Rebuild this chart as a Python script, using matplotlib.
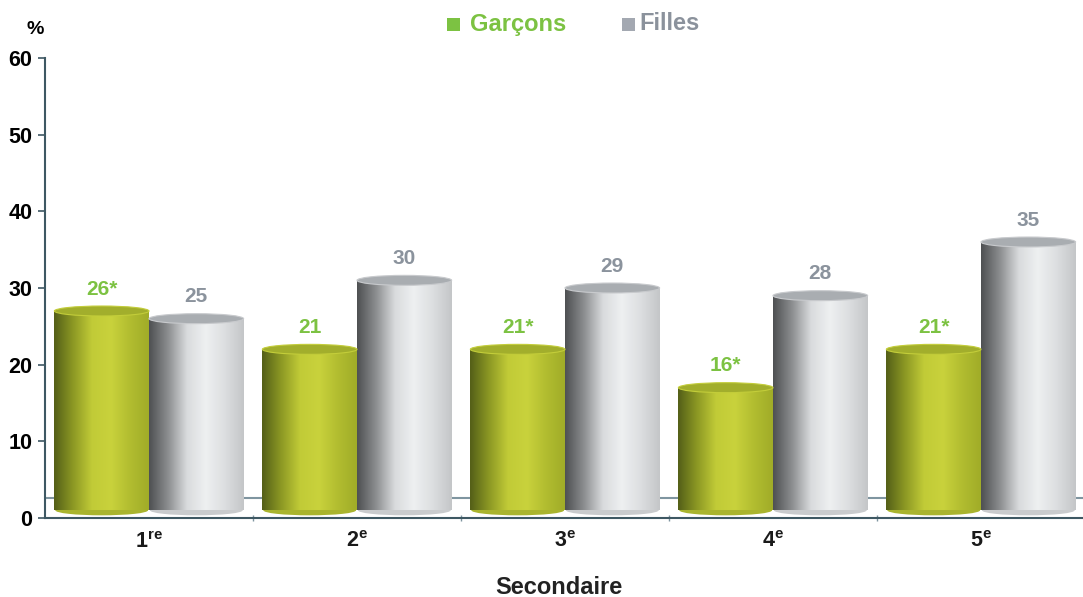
import numpy as np
import matplotlib.pyplot as plt
from matplotlib.patches import Ellipse, Rectangle
from matplotlib.colors import LinearSegmentedColormap

plt.rcParams['font.family'] = ['Liberation Sans', 'DejaVu Sans']
plt.rcParams['mathtext.fontset'] = 'custom'
plt.rcParams['mathtext.bf'] = 'Liberation Sans:bold'
plt.rcParams['mathtext.rm'] = 'Liberation Sans'

categories = [r"$\mathbf{1^{re}}$", r"$\mathbf{2^{e}}$", r"$\mathbf{3^{e}}$",
              r"$\mathbf{4^{e}}$", r"$\mathbf{5^{e}}$"]
garcons = [26, 21, 21, 16, 21]
filles = [25, 30, 29, 28, 35]
garcons_labels = ["26*", "21", "21*", "16*", "21*"]
filles_labels = ["25", "30", "29", "28", "35"]
yticks = [0, 10, 20, 30, 40, 50, 60]

green_txt = "#7cc242"
gray_txt = "#8b939d"
floor = 1.0   # 3D floor offset of the cylinders

green_cmap = LinearSegmentedColormap.from_list(
    "g", ["#545f18", "#8c9824", "#c1cb37", "#c9d23c", "#b2bd30", "#a0ac28"])
gray_cmap = LinearSegmentedColormap.from_list(
    "s", ["#4e5052", "#8c8e90", "#d9dbdd", "#eef0f1", "#dcdee0", "#c4c6c8"])

fig = plt.figure(figsize=(10.83, 5.97), dpi=100)
ax = fig.add_axes([45 / 1083, 1 - 518 / 597, 1040 / 1083, 460 / 597])
ax.set_xlim(-0.5, 4.5)
ax.set_ylim(0, 60)

# back wall floor line
ax.axhline(2.6, color="#7f95a0", lw=1.5, zorder=1)

width = 0.455
grad = np.linspace(0, 1, 256).reshape(1, -1)
ell_h = 1.3


def cylinder(xc, value, cmap, top_color, edge_color, bottom_color):
    x0 = xc - width / 2
    x1 = xc + width / 2
    top = floor + value
    im = ax.imshow(grad, cmap=cmap, aspect="auto", extent=[x0, x1, floor, top],
                   zorder=3, interpolation="bicubic")
    clip = Rectangle((x0, floor), width, value, transform=ax.transData)
    im.set_clip_path(clip)
    bottom = Ellipse((xc, floor), width * 0.98, ell_h, facecolor=bottom_color,
                     edgecolor="none", zorder=2.9)
    ax.add_patch(bottom)
    cap = Ellipse((xc, top), width, ell_h, facecolor=top_color,
                  edgecolor=edge_color, lw=0.8, zorder=4)
    ax.add_patch(cap)


for i in range(len(categories)):
    xg = i - width / 2
    xf = i + width / 2
    cylinder(xg, garcons[i], green_cmap, "#a2ae2c", "#c3cd3a", "#a9b42e")
    cylinder(xf, filles[i], gray_cmap, "#a9adb1", "#c8cacd", "#c9cbcd")
    ax.text(xg, floor + garcons[i] + 1.6, garcons_labels[i], ha="center",
            va="bottom", color=green_txt, fontsize=15, fontweight="bold",
            zorder=6, bbox=dict(facecolor="white", edgecolor="none", pad=1.5))
    ax.text(xf, floor + filles[i] + 1.6, filles_labels[i], ha="center",
            va="bottom", color=gray_txt, fontsize=15, fontweight="bold", zorder=6)

# axes styling
for s in ["top", "right"]:
    ax.spines[s].set_visible(False)
for s in ["left", "bottom"]:
    ax.spines[s].set_color("#3e5863")
    ax.spines[s].set_linewidth(1.5)

ax.set_yticks(yticks)
ax.set_yticklabels([str(v) for v in yticks], fontsize=15.5, fontweight="bold")
ax.tick_params(axis="y", length=5, width=1.2, color="#3e5863", pad=4)

ax.set_xticks(np.arange(0.5, 4.5, 1.0))
ax.set_xticklabels([])
ax.tick_params(axis="x", length=4, width=1, color="#7f95a0", direction="inout")
for i, lab in enumerate(categories):
    ax.text(i, -1.7, lab, ha="center", va="top", fontsize=15.5, color="#1a1a1a")

ax.text(-0.548, 63.7, "%", ha="center", va="center", fontsize=14,
        fontweight="bold")

ax.text(1.97, -9.0, "Secondaire", ha="center", va="center", fontsize=17,
        fontweight="bold", color="#222222")

# legend
fig.patches.append(Rectangle((447 / 1083, 1 - 31 / 597), 13 / 1083, 13 / 597,
                             transform=fig.transFigure, facecolor=green_txt,
                             edgecolor="none"))
fig.text(470 / 1083, 1 - 24 / 597, "Garçons", color=green_txt, fontsize=17,
         fontweight="bold", va="center", ha="left")
fig.patches.append(Rectangle((622 / 1083, 1 - 31 / 597), 13 / 1083, 13 / 597,
                             transform=fig.transFigure, facecolor="#a3a8b1",
                             edgecolor="none"))
fig.text(639 / 1083, 1 - 23 / 597, "Filles", color="#8b929c", fontsize=17,
         fontweight="bold", va="center", ha="left")

fig.savefig("out.png", dpi=100)
